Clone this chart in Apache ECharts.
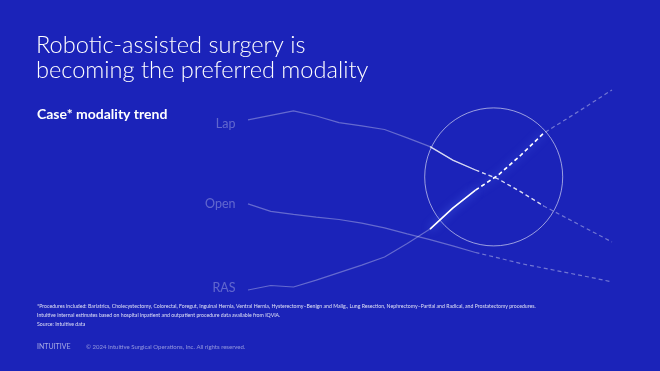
<!DOCTYPE html>
<html>
<head>
<meta charset="utf-8">
<script src="https://cdn.jsdelivr.net/npm/echarts@6/dist/echarts.min.js"></script>
<style>
html,body{margin:0;padding:0;background:#1b23b9;}
#c{width:660px;height:371px;}
</style>
</head>
<body>
<div id="c"></div>
<script>
// Data (share index of cases by modality, %)
const years = [2010,2011,2012,2013,2014,2015,2016,2017,2018,2019,2020,2021,2022,2023,2024,2025,2026];
const lapValues  = [61.7,63.2,64.7,63.0,60.8,59.7,58.5,55.7,52.8,48.3,45.0,42.0,37.7,33.0,29.0,25.0,21.0];
const openValues = [33.7,31.2,30.2,29.3,28.5,27.3,25.7,23.7,21.8,19.7,17.5,15.7,13.8,12.3,10.8,9.3,7.7];
const rasValues  = [5.0,6.5,6.0,8.3,10.8,13.3,16.0,20.5,25.3,32.3,38.3,43.3,50.0,57.3,62.0,66.8,71.7];
const seriesNames = ['Lap','Open','RAS'];
const lastActualIndex = 10;   // solid up to here, dashed projection after
const focusStart = 8, focusEnd = 13; // segment inside the circle
const crossing = [2020.8, 42.7];

function pairs(vals, from, to){
  const out = [];
  for (let i = from; i <= to; i++) out.push([years[i], vals[i]]);
  return out;
}

const allVals = [lapValues, openValues, rasValues];
const series = [];
const dim = 'rgba(255,255,255,0.32)';
const dimDash = 'rgba(255,255,255,0.38)';

allVals.forEach((vals, k) => {
  series.push({
    type:'line', name: seriesNames[k], data: pairs(vals, 0, lastActualIndex),
    showSymbol:false, symbol:'none', silent:true,
    lineStyle:{color: dim, width:1.2}
  });
  series.push({
    type:'line', name: seriesNames[k] + ' projection', data: pairs(vals, lastActualIndex, years.length-1),
    showSymbol:false, symbol:'none', silent:true,
    lineStyle:{color: dimDash, width:1.2, type:[4,3]}
  });
});

// highlighted part inside the circle
series.push({
  type:'line', data: pairs(lapValues, focusStart, lastActualIndex),
  symbol:'none', silent:true,
  lineStyle:{color:'rgba(255,255,255,0.75)', width:1.3}
});
series.push({
  type:'line', data: pairs(lapValues, lastActualIndex, focusEnd),
  symbol:'none', silent:true,
  lineStyle:{color:'rgba(255,255,255,0.75)', width:1.3, type:[4,3]}
});
series.push({
  type:'line', data: pairs(rasValues, focusStart, lastActualIndex),
  symbol:'none', silent:true,
  lineStyle:{color:'#ffffff', width:1.6, shadowColor:'#5d7bff', shadowBlur:8}
});
series.push({
  type:'line', data: pairs(rasValues, lastActualIndex, focusEnd),
  symbol:'none', silent:true,
  lineStyle:{color:'#ffffff', width:1.6, type:[4,3], shadowColor:'#5d7bff', shadowBlur:8}
});

// circle around the crossing
series.push({
  type:'scatter', data:[crossing], symbol:'circle', symbolSize:138, silent:true,
  itemStyle:{color:'rgba(0,0,0,0)', borderColor:'rgba(255,255,255,0.7)', borderWidth:1}
});

// series name labels at the start of each line
const labelShift = [4, 0, -2];
series.push({
  type:'scatter', silent:true, symbolSize:1,
  itemStyle:{color:'rgba(0,0,0,0)'},
  data: allVals.map((v,k) => ({value:[years[0], v[0]], name: seriesNames[k], label:{offset:[0, labelShift[k]]}})),
  label:{show:true, position:'left', distance:12, formatter: p => p.name,
    color:'rgba(255,255,255,0.38)', fontFamily:'Lato', fontSize:12.5}
});

const foot = [
  '*Procedures included: Bariatrics, Cholecystectomy, Colorectal, Foregut, Inguinal Hernia, Ventral Hernia, Hysterectomy–Benign and Malig., Lung Resection, Nephrectomy–Partial and Radical, and Prostatectomy procedures.',
  'Intuitive internal estimates based on hospital inpatient and outpatient procedure data available from IQVIA.',
  'Source: Intuitive data'
];

const chart = echarts.init(document.getElementById('c'), null, {renderer:'canvas'});
chart.setOption({
  animation:false,
  backgroundColor:'#1b23b9',
  title:[
    {text:'Robotic-assisted surgery is\nbecoming the preferred modality', left:36, top:33, padding:0,
      textStyle:{color:'#ffffff', fontFamily:'Lato', fontWeight:300, fontSize:23.6, lineHeight:25}},
    {text:'Case* modality trend', left:37, top:107, padding:0,
      textStyle:{color:'#ffffff', fontFamily:'Lato', fontWeight:'bold', fontSize:14}},
    {text: foot.join('\n'), left:37, top:302, padding:0,
      textStyle:{color:'rgba(255,255,255,0.85)', fontFamily:'Lato', fontWeight:'normal', fontSize:5.2, lineHeight:9}},
    {text:'INTUITIVE', left:37, top:343, padding:0,
      textStyle:{color:'rgba(255,255,255,0.6)', fontFamily:'Lato', fontWeight:'normal', fontSize:7}},
    {text:'© 2024 Intuitive Surgical Operations, Inc. All rights reserved.', left:86, top:344, padding:0,
      textStyle:{color:'rgba(255,255,255,0.5)', fontFamily:'Lato', fontWeight:'normal', fontSize:6}}
  ],
  grid:{left:248, right:48, top:80, bottom:66},
  xAxis:{type:'value', min:2010, max:2026, show:false},
  yAxis:{type:'value', min:0, max:75, show:false},
  series: series
});
</script>
</body>
</html>
